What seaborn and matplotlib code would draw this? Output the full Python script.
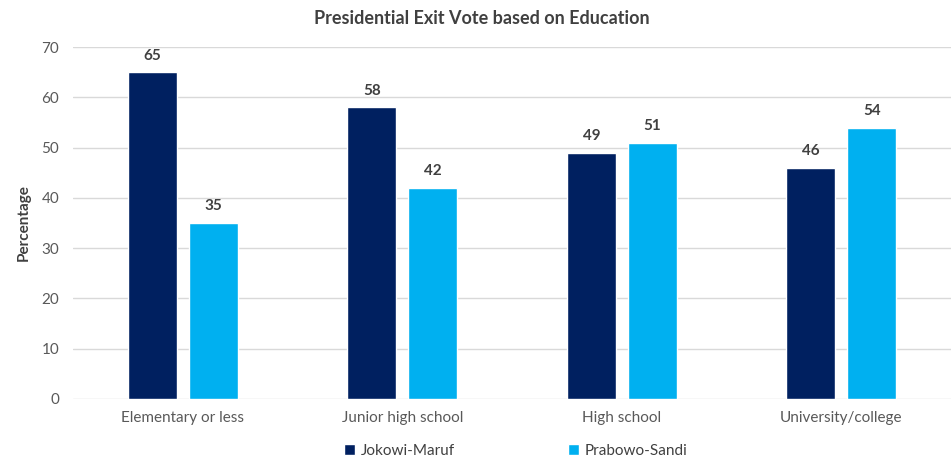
import matplotlib
matplotlib.use("Agg")
import matplotlib.pyplot as plt
import seaborn as sns
import pandas as pd

categories = ["Elementary or less", "Junior high school", "High school", "University/college"]
series_names = ["Jokowi-Maruf", "Prabowo-Sandi"]
jokowi = [65, 58, 49, 46]
prabowo = [35, 42, 51, 54]
y_ticks = [0, 10, 20, 30, 40, 50, 60, 70]

colors = ["#002060", "#00B0F0"]

df = pd.DataFrame({
    "Education": categories * 2,
    "Candidate": [series_names[0]] * len(categories) + [series_names[1]] * len(categories),
    "Percentage": jokowi + prabowo,
})

sns.set_theme(style="white")
plt.rcParams["font.family"] = ["Lato", "DejaVu Sans"]

fig = plt.figure(figsize=(9.51, 4.62), dpi=100)
ax = fig.add_axes([0.0768, 0.1364, 0.9232, 0.7616])

sns.barplot(data=df, x="Education", y="Percentage", hue="Candidate",
            order=categories, hue_order=series_names, palette=colors,
            width=0.556, gap=0.2, saturation=1, ax=ax, legend=True)

for cont in ax.containers:
    ax.bar_label(cont, fmt="%d", padding=7, fontsize=11, fontweight="bold", color="#404040")

ax.set_xlim(-0.5, 3.5)
ax.set_ylim(0, 70)
ax.set_yticks(y_ticks)
ax.yaxis.grid(True, color="#D9D9D9", linewidth=1)
ax.set_axisbelow(True)
for s in ax.spines.values():
    s.set_visible(False)
ax.tick_params(axis="both", length=0, labelsize=11, colors="#595959", pad=10)
ax.tick_params(axis="x", pad=9)
ax.set_xlabel("")
ax.set_ylabel("Percentage", fontsize=11, fontweight="bold", color="#404040", labelpad=8)

ax.set_title("Presidential Exit Vote based on Education", fontsize=13, fontweight="bold",
             color="#404040", x=(482 - 73) / (951 - 73), pad=17)

handles, labels = ax.get_legend_handles_labels()
ax.legend(handles, labels, loc="center", bbox_to_anchor=((516 - 73) / (951 - 73), -0.148),
          ncol=2, frameon=False, fontsize=11, handlelength=0.7, handleheight=0.7,
          columnspacing=7.4, handletextpad=0.4, labelcolor="#404040")

fig.savefig("out.png", dpi=100, facecolor="white")
